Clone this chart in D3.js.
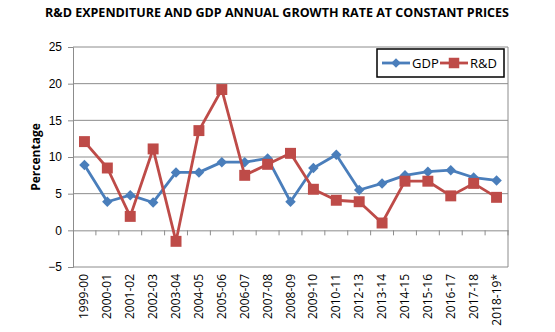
<!DOCTYPE html>
<html>
<head>
<meta charset="utf-8">
<script src="https://cdn.jsdelivr.net/npm/d3@7"></script>
<style>
  body { margin: 0; background: #fff; }
  svg { display: block; font-family: "Open Sans", "Liberation Sans", sans-serif; }
</style>
</head>
<body>
<div id="graph"></div>
<script>
var years = ["1999-00", "2000-01", "2001-02", "2002-03", "2003-04", "2004-05", "2005-06",
  "2006-07", "2007-08", "2008-09", "2009-10", "2010-11", "2012-13", "2013-14",
  "2014-15", "2015-16", "2016-17", "2017-18", "2018-19*"];
var gdp = [8.9, 3.9, 4.8, 3.8, 7.9, 7.9, 9.3, 9.3, 9.8, 3.9, 8.5, 10.3, 5.5, 6.4, 7.5, 8.0, 8.2, 7.2, 6.8];
var rnd = [12.1, 8.5, 1.9, 11.1, -1.5, 13.6, 19.2, 7.5, 9.0, 10.5, 5.6, 4.1, 3.9, 1.0, 6.7, 6.7, 4.7, 6.4, 4.5];
var yTicks = [-5, 0, 5, 10, 15, 20, 25];

var width = 555;
var height = 332;
var plot = {left: 73, right: 508, top: 47, bottom: 267};

var svg = d3.select("#graph").append("svg")
  .attr("width", width)
  .attr("height", height);

//title
svg.append("text")
  .attr("x", 277)
  .attr("y", 17)
  .attr("text-anchor", "middle")
  .attr("font-size", 13)
  .attr("font-weight", "bold")
  .attr("textLength", 464)
  .attr("lengthAdjust", "spacingAndGlyphs")
  .text("R&D EXPENDITURE AND GDP ANNUAL GROWTH RATE AT CONSTANT PRICES");

let x = d3.scaleBand()
  .domain(years)
  .range([plot.left, plot.right]);
let y = d3.scaleLinear()
  .domain([-5, 25])
  .range([plot.bottom, plot.top]);

//gridlines
svg.append("g")
  .selectAll("line")
  .data(yTicks.filter(function(d) { return d > 0; }))
  .join("line")
  .attr("x1", plot.left)
  .attr("x2", plot.right)
  .attr("y1", function(d) { return y(d); })
  .attr("y2", function(d) { return y(d); })
  .attr("stroke", "#8c8c8c")
  .attr("stroke-width", 1);

//plot border (right and bottom)
svg.append("path")
  .attr("d", "M" + plot.right + "," + plot.top + "V" + plot.bottom + "H" + plot.left)
  .attr("fill", "none")
  .attr("stroke", "#8c8c8c");

//y axis
let yAxis = svg.append("g")
  .attr("transform", "translate(" + plot.left + ",0)")
  .call(d3.axisLeft(y).tickValues(yTicks).tickSize(5).tickPadding(6));
yAxis.select(".domain").attr("stroke", "#8c8c8c");
yAxis.selectAll(".tick line").attr("stroke", "#8c8c8c");
yAxis.selectAll("text").attr("font-size", 12).attr("fill", "#000");

//x axis at zero
let xAxis = svg.append("g")
  .attr("transform", "translate(0," + y(0) + ")")
  .call(d3.axisBottom(x).tickSize(0).tickFormat(""));
xAxis.select(".domain").attr("stroke", "#8c8c8c");
//category boundary ticks
xAxis.selectAll(".bound")
  .data(years)
  .join("line")
  .attr("class", "bound")
  .attr("x1", function(d) { return x(d) + x.bandwidth(); })
  .attr("x2", function(d) { return x(d) + x.bandwidth(); })
  .attr("y1", 0)
  .attr("y2", 5)
  .attr("stroke", "#8c8c8c");

//category labels below plot
svg.append("g")
  .selectAll("text")
  .data(years)
  .join("text")
  .attr("transform", function(d) {
    return "translate(" + (x(d) + x.bandwidth() / 2 + 4) + "," + (plot.bottom + 7) + ") rotate(-90)";
  })
  .attr("text-anchor", "end")
  .attr("font-size", 12)
  .text(function(d) { return d; });

//y axis title
svg.append("text")
  .attr("transform", "translate(40," + y(10) + ") rotate(-90)")
  .attr("text-anchor", "middle")
  .attr("font-size", 12)
  .attr("font-weight", "bold")
  .text("Percentage");

let line = d3.line()
  .x(function(d, i) { return x(years[i]) + x.bandwidth() / 2; })
  .y(function(d) { return y(d); });

let series = [
  {name: "GDP", values: gdp, color: "#4a7ebb"},
  {name: "R&D", values: rnd, color: "#be4b48"}
];

for (let s of series) {
  svg.append("path")
    .attr("d", line(s.values))
    .attr("fill", "none")
    .attr("stroke", s.color)
    .attr("stroke-width", 2.8)
    .attr("stroke-linejoin", "round");

  //diamonds for GDP, squares for R&D
  let size = s.name == "GDP" ? 55 : 120;
  svg.append("g")
    .selectAll("path")
    .data(s.values)
    .join("path")
    .attr("d", d3.symbol().type(d3.symbolSquare).size(size))
    .attr("transform", function(d, i) {
      let t = "translate(" + (x(years[i]) + x.bandwidth() / 2) + "," + y(d) + ")";
      return s.name == "GDP" ? t + " rotate(45)" : t;
    })
    .attr("fill", s.color);
}

//legend
let legend = svg.append("g").attr("transform", "translate(377,49)");
legend.append("rect")
  .attr("width", 127)
  .attr("height", 28)
  .attr("fill", "#fff")
  .attr("stroke", "#000")
  .attr("stroke-width", 1.5);

let legendItems = [
  {x: 5, label: "GDP"},
  {x: 63, label: "R&D"}
];
legendItems.forEach(function(item, i) {
  let s = series[i];
  legend.append("line")
    .attr("x1", item.x)
    .attr("x2", item.x + 28)
    .attr("y1", 14)
    .attr("y2", 14)
    .attr("stroke", s.color)
    .attr("stroke-width", 2.8);
  legend.append("path")
    .attr("d", d3.symbol().type(d3.symbolSquare).size(i == 0 ? 45 : 110))
    .attr("transform", "translate(" + (item.x + 14) + ",14)" + (i == 0 ? " rotate(45)" : ""))
    .attr("fill", s.color);
  legend.append("text")
    .attr("x", item.x + 30)
    .attr("y", 19)
    .attr("font-size", 13)
    .text(item.label);
});
</script>
</body>
</html>
